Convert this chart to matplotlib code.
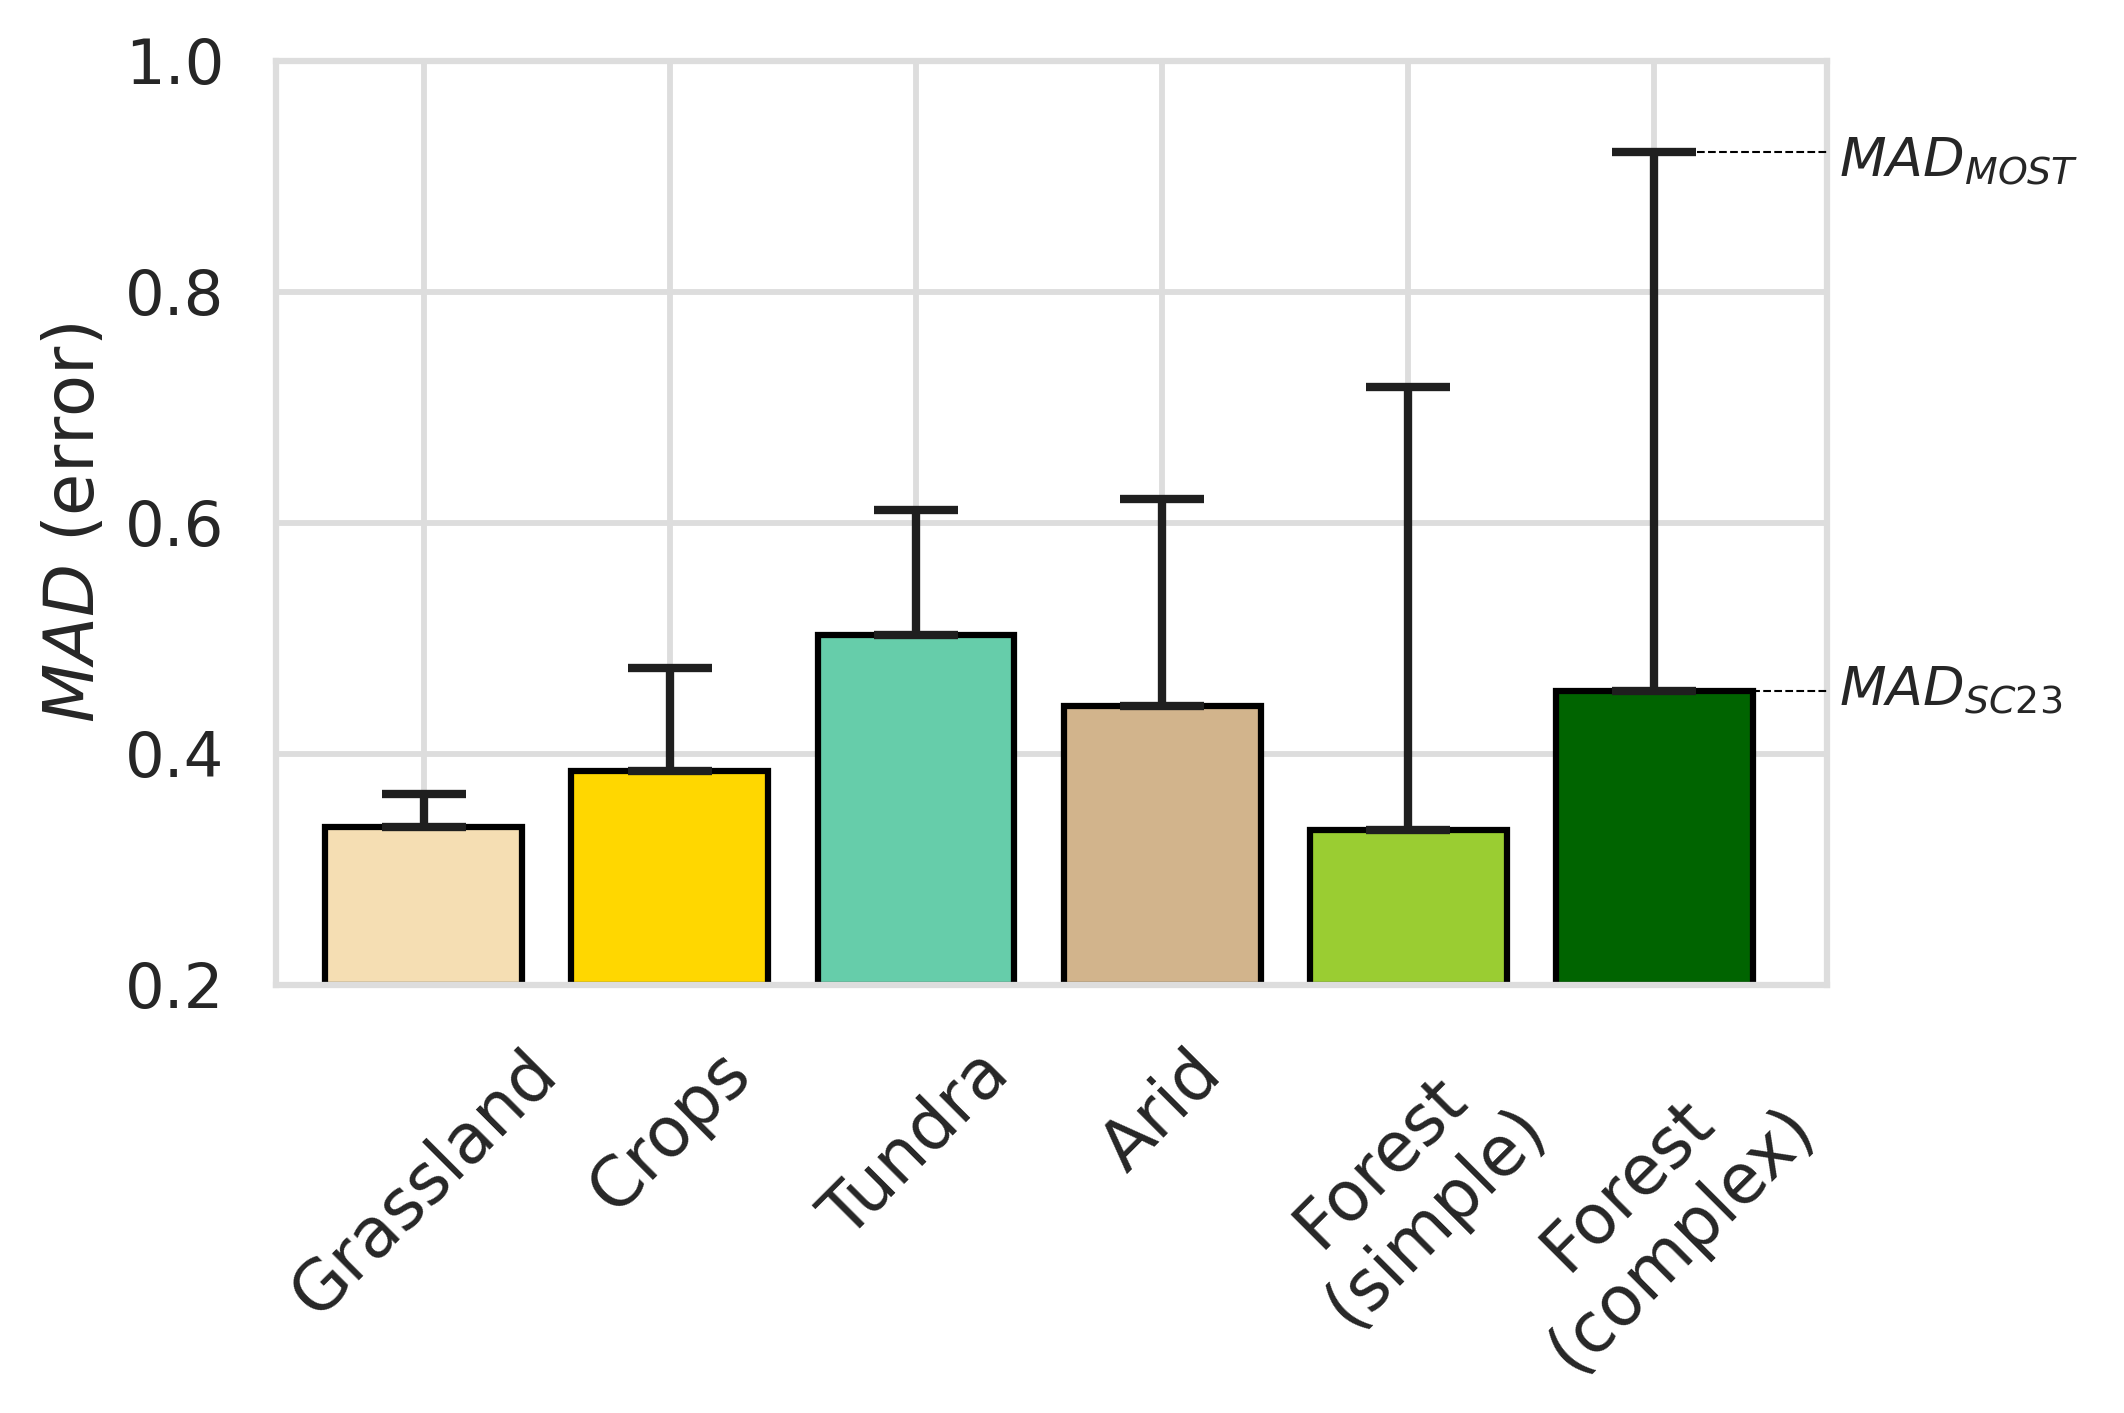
import numpy as np
import matplotlib
matplotlib.use("Agg")
import matplotlib.pyplot as plt
import matplotlib.transforms as mtransforms

# values
categories = ["Grassland", "Crops", "Tundra", "Arid", "Forest\n(simple)", "Forest\n(complex)"]
mad_sc23 = [0.337, 0.385, 0.503, 0.441, 0.334, 0.454]
mad_most = [0.365, 0.474, 0.611, 0.621, 0.718, 0.921]
colors = ["wheat", "gold", "mediumaquamarine", "tan", "yellowgreen", "darkgreen"]

plt.rcParams["font.family"] = "DejaVu Sans"
text_col = "#262626"
grid_col = "#dddddd"

fig = plt.figure(figsize=(7.08, 4.71), dpi=300)
ax = fig.add_axes([0.130, 0.303, 0.730, 0.654])

x = np.arange(len(categories))
lower = np.zeros(len(categories))
upper = np.array(mad_most) - np.array(mad_sc23)

ax.bar(x, np.array(mad_sc23) - 0.2, bottom=0.2, width=0.8, color=colors,
       edgecolor="black", linewidth=1.5, zorder=2)
ax.errorbar(x, mad_sc23, yerr=[lower, upper], fmt="none", ecolor="#1f1f1f",
            elinewidth=2, capsize=10, capthick=2, zorder=3)

# reference lines for the last bar
last = len(categories) - 1
x_end = 5.7
for val in (mad_most[last], mad_sc23[last]):
    ax.plot([last + 0.175, x_end], [val, val], color="black", linestyle="--",
            linewidth=0.5, zorder=4)

trans = mtransforms.blended_transform_factory(ax.transAxes, ax.transData)
ax.text(1.008, mad_most[last] - 0.009, r"$MAD_{MOST}$", transform=trans, va="center",
        ha="left", fontsize=13, color=text_col)
ax.text(1.008, mad_sc23[last], r"$MAD_{SC23}$", transform=trans, va="center",
        ha="left", fontsize=13, color=text_col)

ax.set_xlim(-0.6, x_end)
ax.set_ylim(0.2, 1.0)
ax.set_yticks([0.2, 0.4, 0.6, 0.8, 1.0])
ax.set_xticks(x)
ax.set_xticklabels(categories, rotation=45, ha="center", fontsize=16.5, color=text_col)
ax.tick_params(axis="y", labelsize=15, labelcolor=text_col, length=0, pad=12.5)
ax.tick_params(axis="x", length=0, pad=13)
ax.set_ylabel(r"$MAD$ (error)", fontsize=16.5, color=text_col)

ax.grid(True, color=grid_col, linewidth=1.4)
ax.set_axisbelow(True)
for s in ax.spines.values():
    s.set_color(grid_col)
    s.set_linewidth(1.5)

fig.savefig("out.png", dpi=300)
